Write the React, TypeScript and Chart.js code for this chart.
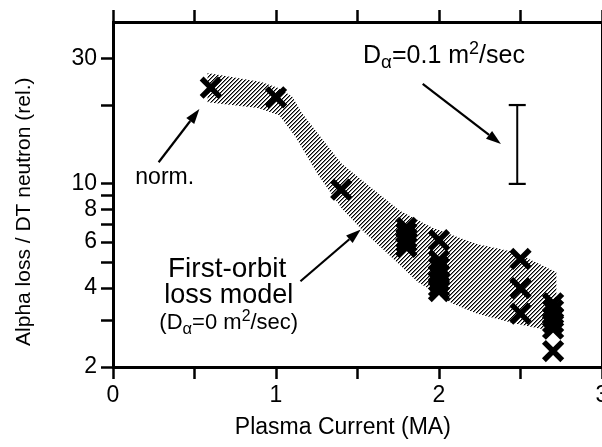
import React, { useEffect, useRef } from 'react';
import { Chart, registerables } from 'chart.js';

Chart.register(...registerables);

const FONT = "'Liberation Sans', Arial, Helvetica, sans-serif";

// Axes
const xTickValues = [0, 0.5, 1, 1.5, 2, 2.5, 3];
const xLabelValues = [0, 1, 2, 3];
const yTickValues = [2, 3, 4, 5, 6, 7, 8, 9, 10, 20, 30];
const yLabelValues = [2, 4, 6, 8, 10, 30];
const xRange = [0, 3];
const yRange = [2, 41.5];
const xTitle = 'Plasma Current (MA)';
const yTitle = 'Alpha loss / DT neutron (rel.)';

// Measured points (plasma current, MA) and alpha loss values at each current
const measuredCurrent = [0.6, 1.0, 1.4, 1.8, 2.0, 2.5, 2.7];
const measuredLoss = [
  [23.3],
  [21.4],
  [9.5],
  [6.8, 6.5, 6.2, 6.0, 5.75],
  [6.1, 5.1, 4.8, 4.5, 4.25, 4.05, 3.9],
  [5.17, 4.0, 3.2],
  [3.5, 3.3, 3.1, 2.95, 2.8, 2.3],
];

// First-orbit loss model band
const bandUpperX = [0.58, 0.91, 1.02, 1.1, 1.16, 1.4, 1.58, 1.76, 1.96, 2.23, 2.46, 2.6, 2.72];
const bandUpperY = [26.5, 24.5, 23.2, 21.5, 18.6, 12.0, 9.7, 7.9, 6.8, 5.9, 5.5, 5.0, 4.6];
const bandLowerX = [0.58, 0.89, 1.02, 1.12, 1.26, 1.4, 1.54, 1.66, 1.87, 2.08, 2.23, 2.46, 2.6, 2.72];
const bandLowerY = [20.5, 19.5, 18.3, 15.1, 10.8, 8.1, 6.55, 5.6, 4.22, 3.5, 3.2, 2.94, 2.82, 2.72];

// D_alpha = 0.1 m^2/sec error bar
const errorBarCurrent = 2.48;
const errorBarRange = [10, 20];

// Annotation anchors (data coordinates)
const arrowNorm = { from: [0.28, 12.1], to: [0.53, 19.3] };
const arrowDalpha = { from: [1.9, 24.1], to: [2.38, 14.2] };
const arrowModel = { from: [1.15, 4.25], to: [1.52, 6.7] };
const textDalphaAt = [1.534, 28.9];
const textNormAt = [0.137, 10.0];
const textModelLine1At = [0.7, 4.4];
const textModelLine2At = [0.71, 3.52];
const textModelLine3At = [0.71, 2.8];

type Part = { t: string; s: number; dy: number };

function drawRich(ctx: CanvasRenderingContext2D, parts: Part[], x: number, y: number, size: number, align: 'left' | 'center') {
  let total = 0;
  const widths = parts.map((p) => {
    ctx.font = `${size * p.s}px ${FONT}`;
    const w = ctx.measureText(p.t).width;
    total += w;
    return w;
  });
  let cx = align === 'center' ? x - total / 2 : x;
  ctx.textAlign = 'left';
  ctx.textBaseline = 'alphabetic';
  parts.forEach((p, i) => {
    ctx.font = `${size * p.s}px ${FONT}`;
    ctx.fillText(p.t, cx, y + p.dy);
    cx += widths[i];
  });
}

function drawArrow(ctx: CanvasRenderingContext2D, x1: number, y1: number, x2: number, y2: number) {
  const ang = Math.atan2(y2 - y1, x2 - x1);
  const headLen = 15;
  const headHalf = 5;
  const bx = x2 - headLen * Math.cos(ang);
  const by = y2 - headLen * Math.sin(ang);
  ctx.lineWidth = 2.2;
  ctx.beginPath();
  ctx.moveTo(x1, y1);
  ctx.lineTo(bx, by);
  ctx.stroke();
  ctx.beginPath();
  ctx.moveTo(x2, y2);
  ctx.lineTo(bx + headHalf * Math.sin(ang), by - headHalf * Math.cos(ang));
  ctx.lineTo(bx - headHalf * Math.sin(ang), by + headHalf * Math.cos(ang));
  ctx.closePath();
  ctx.fill();
}

const annotationPlugin = {
  id: 'figureAnnotations',
  afterDatasetsDraw(chart: any) {
    const { ctx, scales, chartArea } = chart;
    const xs = scales.x;
    const ys = scales.y;
    const px = (v: number) => xs.getPixelForValue(v);
    const py = (v: number) => ys.getPixelForValue(v);
    ctx.save();
    ctx.fillStyle = '#000';
    ctx.strokeStyle = '#000';
    [arrowNorm, arrowDalpha, arrowModel].forEach((a) =>
      drawArrow(ctx, px(a.from[0]), py(a.from[1]), px(a.to[0]), py(a.to[1]))
    );
    drawRich(
      ctx,
      [
        { t: 'D', s: 1, dy: 0 },
        { t: 'α', s: 0.75, dy: 5 },
        { t: '=0.1 m', s: 1, dy: 0 },
        { t: '2', s: 0.72, dy: -9 },
        { t: '/sec', s: 1, dy: 0 },
      ],
      px(textDalphaAt[0]),
      py(textDalphaAt[1]),
      25,
      'left'
    );
    drawRich(ctx, [{ t: 'norm.', s: 1, dy: 0 }], px(textNormAt[0]), py(textNormAt[1]), 23, 'left');
    drawRich(ctx, [{ t: 'First-orbit', s: 1, dy: 0 }], px(textModelLine1At[0]), py(textModelLine1At[1]), 28, 'center');
    drawRich(ctx, [{ t: 'loss model', s: 1, dy: 0 }], px(textModelLine2At[0]), py(textModelLine2At[1]), 27, 'center');
    drawRich(
      ctx,
      [
        { t: '(D', s: 1, dy: 0 },
        { t: 'α', s: 0.75, dy: 5 },
        { t: '=0 m', s: 1, dy: 0 },
        { t: '2', s: 0.72, dy: -8 },
        { t: '/sec)', s: 1, dy: 0 },
      ],
      px(textModelLine3At[0]),
      py(textModelLine3At[1]),
      22,
      'center'
    );
    // axis titles
    ctx.font = `23px ${FONT}`;
    ctx.textAlign = 'center';
    ctx.textBaseline = 'alphabetic';
    ctx.fillText(xTitle, chartArea.left + (chartArea.right - chartArea.left) * 0.47, chartArea.bottom + 67);
    ctx.save();
    ctx.translate(30, chartArea.top + (chartArea.bottom - chartArea.top) * 0.55);
    ctx.rotate(-Math.PI / 2);
    ctx.font = `21px ${FONT}`;
    ctx.fillText(yTitle, 0, 0);
    ctx.restore();
    ctx.restore();
  },
};

function makeHatch(): CanvasPattern | string {
  const c = document.createElement('canvas');
  c.width = 4;
  c.height = 4;
  const g = c.getContext('2d');
  if (!g) return '#888';
  for (let xx = 0; xx < 4; xx++) {
    for (let yy = 0; yy < 4; yy++) {
      const k = (xx + yy) % 4;
      if (k === 0) {
        g.fillStyle = '#000';
        g.fillRect(xx, yy, 1, 1);
      } else if (k === 1) {
        g.fillStyle = 'rgba(0,0,0,0.5)';
        g.fillRect(xx, yy, 1, 1);
      }
    }
  }
  const p = g.createPattern(c, 'repeat');
  return p || '#888';
}

export default function App() {
  const ref = useRef<HTMLCanvasElement | null>(null);
  useEffect(() => {
    if (!ref.current) return;
    const markerPoints: { x: number; y: number }[] = [];
    measuredCurrent.forEach((c, i) => measuredLoss[i].forEach((v) => markerPoints.push({ x: c, y: v })));
    const bandPoints = [
      ...bandUpperX.map((x, i) => ({ x, y: bandUpperY[i] })),
      ...bandLowerX.map((x, i) => ({ x, y: bandLowerY[i] })).reverse(),
    ];
    const errPoints = errorBarRange.map((v) => ({ x: errorBarCurrent, y: v }));

    const tickFont = { family: FONT, size: 23 };
    const axisBorder = { color: '#000', width: 3 };
    const gridCfg = { drawOnChartArea: false, tickLength: 12, tickWidth: 2.5, tickColor: '#000', color: '#000' };
    const noPad = (s: any) => {
      s.paddingLeft = 0;
      s.paddingRight = 0;
      s.paddingTop = 0;
      s.paddingBottom = 0;
    };

    const chart = new Chart(ref.current, {
      type: 'scatter',
      data: {
        datasets: [
          {
            label: 'measured',
            data: markerPoints,
            pointStyle: 'crossRot',
            pointRadius: 13,
            pointBorderWidth: 5.5,
            borderColor: '#000',
            backgroundColor: '#000',
            showLine: false,
            order: 0,
          } as any,
          {
            label: 'error bar',
            type: 'line',
            data: errPoints,
            borderColor: '#000',
            borderWidth: 2,
            pointStyle: 'line',
            pointRadius: 8.5,
            pointBorderWidth: 2.2,
            pointBorderColor: '#000',
            fill: false,
            order: 1,
          } as any,
          {
            label: 'first-orbit model',
            type: 'line',
            data: bandPoints,
            borderWidth: 0,
            borderColor: 'rgba(0,0,0,0)',
            backgroundColor: makeHatch(),
            pointRadius: 0,
            fill: 'shape',
            tension: 0,
            order: 2,
          } as any,
        ],
      },
      options: {
        responsive: false,
        animation: false,
        events: [],
        layout: { padding: { left: 0, top: 0, bottom: 0, right: -13 }, autoPadding: false },
        plugins: { legend: { display: false }, tooltip: { enabled: false } },
        scales: {
          x: {
            type: 'linear',
            position: 'bottom',
            min: xRange[0],
            max: xRange[1],
            afterBuildTicks: (s: any) => {
              s.ticks = xTickValues.map((v) => ({ value: v }));
            },
            ticks: {
              autoSkip: false,
              maxRotation: 0,
              color: '#000',
              font: tickFont,
              padding: 3,
              callback: (v: any) => (xLabelValues.includes(Number(v)) ? String(v) : ''),
            },
            grid: gridCfg,
            border: axisBorder,
            afterFit: (s: any) => {
              s.height = 80;
              noPad(s);
            },
          },
          xTop: {
            type: 'linear',
            position: 'top',
            min: xRange[0],
            max: xRange[1],
            afterBuildTicks: (s: any) => {
              s.ticks = xTickValues.map((v) => ({ value: v }));
            },
            ticks: { display: false },
            grid: gridCfg,
            border: axisBorder,
            afterFit: (s: any) => {
              s.height = 22;
              noPad(s);
            },
          },
          y: {
            type: 'logarithmic',
            position: 'left',
            min: yRange[0],
            max: yRange[1],
            afterBuildTicks: (s: any) => {
              s.ticks = yTickValues.map((v) => ({ value: v }));
            },
            ticks: {
              autoSkip: false,
              color: '#000',
              font: tickFont,
              padding: 4,
              callback: (v: any) => (yLabelValues.includes(Number(v)) ? String(v) : ''),
            },
            grid: gridCfg,
            border: axisBorder,
            afterFit: (s: any) => {
              s.width = 113;
              noPad(s);
            },
          },
          yRight: {
            type: 'logarithmic',
            position: 'right',
            min: yRange[0],
            max: yRange[1],
            afterBuildTicks: (s: any) => {
              s.ticks = yTickValues.map((v) => ({ value: v }));
            },
            ticks: { display: false },
            grid: gridCfg,
            border: axisBorder,
            afterFit: (s: any) => {
              s.width = 6;
              noPad(s);
            },
          },
        },
      } as any,
      plugins: [annotationPlugin],
    });
    return () => chart.destroy();
  }, []);
  return (
    <div style={{ position: 'absolute', left: 0, top: 0, width: 602, height: 447, background: '#fff' }}>
      <canvas ref={ref} width={602} height={447} style={{ display: 'block' }} />
    </div>
  );
}
